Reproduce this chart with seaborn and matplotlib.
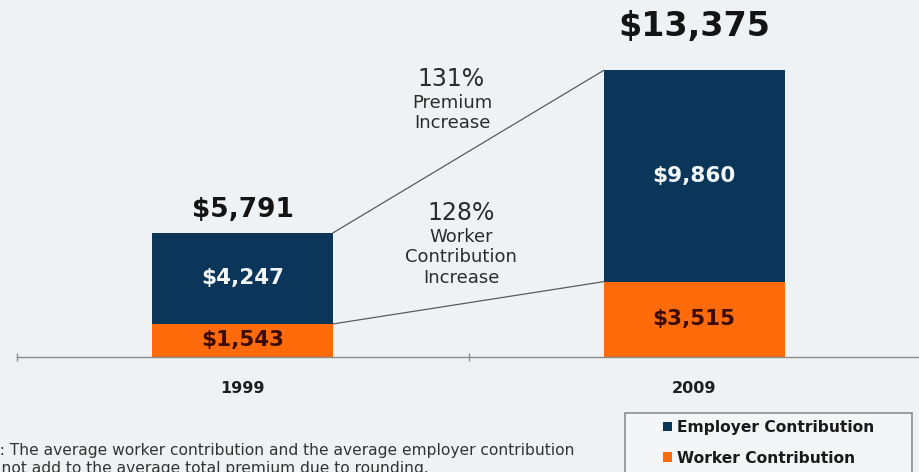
import matplotlib
matplotlib.use("Agg")
import matplotlib.pyplot as plt
import seaborn as sns
import pandas as pd
from matplotlib.patches import Rectangle, Patch

# Average annual family premium, split by who pays
years = ["1999", "2009"]
worker = [1543, 3515]
employer = [4247, 9860]
total = [5791, 13375]

premium_increase = "131%"
worker_increase = "128%"

series_names = ["Employer Contribution", "Worker Contribution"]
note = ("Note: The average worker contribution and the average employer contribution\n"
        "may not add to the average total premium due to rounding.")

NAVY = "#0b365a"
ORANGE = "#ff6a0a"
BG = "#eff2f5"
TEXT = "#141414"

sns.set_theme(style="white")
plt.rcParams["font.family"] = ["DejaVu Sans"]

W, H = 919, 472
fig = plt.figure(figsize=(W / 100, H / 100), dpi=100, facecolor=BG)
ax = fig.add_axes([17 / W, 115 / H, 903 / W, 357 / H])
ax.set_facecolor(BG)


def fx(px):
    return px / W


def fy(py):
    return 1 - py / H


df = pd.DataFrame({"year": years, "worker": worker,
                   "employer": employer, "total": total})

# Full-height bar in navy, worker share overlaid in orange from the baseline
sns.barplot(data=df, x="year", y="total", color=NAVY, width=0.4,
            saturation=1, errorbar=None, linewidth=0, ax=ax)
sns.barplot(data=df, x="year", y="worker", color=ORANGE, width=0.4,
            saturation=1, errorbar=None, linewidth=0, ax=ax)

ax.set_xlim(-0.5, 1.5)
ax.set_ylim(0, 16650)
ax.set_xlabel("")
ax.set_ylabel("")
ax.set_yticks([])
for side in ("left", "right", "top"):
    ax.spines[side].set_visible(False)
ax.spines["bottom"].set_color("#8a8a8a")
ax.spines["bottom"].set_linewidth(1.0)
ax.set_xticks([-0.5, 0.5, 1.5], minor=True)
ax.tick_params(axis="x", which="major", length=0, pad=17)
ax.tick_params(axis="x", which="minor", length=6, width=1, color="#8a8a8a",
               direction="inout", bottom=True)
for lbl in ax.get_xticklabels():
    lbl.set_fontweight("bold")
    lbl.set_fontsize(11.5)
    lbl.set_color("#1e1e1e")

half = 0.2
# Totals above each bar
total_offsets = [10, 27]
total_sizes = [19, 24]
for i, v in enumerate(total):
    ax.annotate(f"${v:,}", (i, v), xytext=(0, total_offsets[i] * 0.72),
                textcoords="offset points", ha="center", va="bottom",
                fontsize=total_sizes[i], fontweight="bold", color=TEXT)

# Segment labels
for i in range(len(years)):
    ax.text(i, worker[i] + employer[i] / 2, f"${employer[i]:,}", ha="center",
            va="center", fontsize=15.5, fontweight="bold", color="#f4f6f8")
    ax.text(i, worker[i] / 2, f"${worker[i]:,}", ha="center", va="center",
            fontsize=15.5, fontweight="bold", color="#3a0c02")

# Connector lines between the bars
ax.plot([0 + half, 1 - half], [total[0], total[1]], color="#5a5a5a", lw=0.9)
ax.plot([0 + half, 1 - half], [worker[0], worker[1]], color="#5a5a5a", lw=0.9)

# Growth call-outs
fig.text(fx(451), fy(79), premium_increase, ha="center", va="center",
         fontsize=17, color="#2b2b2b")
fig.text(fx(452), fy(103), "Premium", ha="center", va="center",
         fontsize=13, color="#2b2b2b")
fig.text(fx(452), fy(123), "Increase", ha="center", va="center",
         fontsize=13, color="#2b2b2b")
fig.text(fx(461), fy(213), worker_increase, ha="center", va="center",
         fontsize=17, color="#2b2b2b")
fig.text(fx(461), fy(237), "Worker", ha="center", va="center",
         fontsize=13, color="#2b2b2b")
fig.text(fx(461), fy(257), "Contribution", ha="center", va="center",
         fontsize=13, color="#2b2b2b")
fig.text(fx(461), fy(278), "Increase", ha="center", va="center",
         fontsize=13, color="#2b2b2b")

# Legend box
fig.patches.append(Rectangle((fx(625), -0.05), fx(912) - fx(625),
                             fy(413) + 0.05, transform=fig.transFigure,
                             facecolor="#f3f5f7", edgecolor="#8c8c8c",
                             lw=1.2, zorder=0))
handles = [Patch(facecolor=NAVY, edgecolor="none"),
           Patch(facecolor=ORANGE, edgecolor="none")]
fig.legend(handles, series_names, loc="upper left",
           bbox_to_anchor=(fx(663), fy(420)), frameon=False,
           prop={"weight": "bold", "size": 11.2}, handlelength=0.6,
           handleheight=0.6, handletextpad=0.3, labelspacing=1.0,
           borderpad=0, borderaxespad=0, labelcolor="#1a1a1a")

# Footnote
fig.text(fx(-37), fy(443), note, ha="left", va="top", fontsize=11.2,
         linespacing=1.25, color="#333333")

fig.savefig("out.png", dpi=100, facecolor=BG)
